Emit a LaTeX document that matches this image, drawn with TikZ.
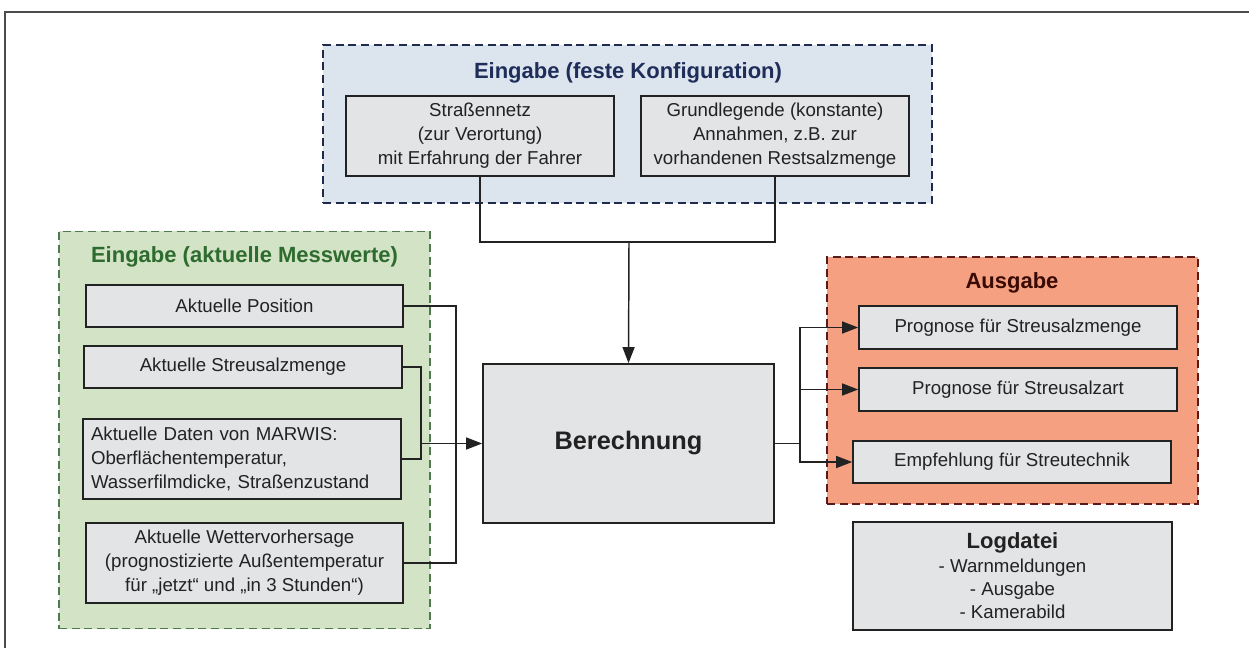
\documentclass[tikz,border=0pt]{standalone}
\usepackage{fontspec}
\setmainfont{Liberation Sans}
\usetikzlibrary{arrows.meta}
\definecolor{boxgray}{HTML}{E3E4E6}
\definecolor{bluefill}{HTML}{DCE4ED}
\definecolor{blueline}{HTML}{1E2A4E}
\definecolor{bluetext}{HTML}{1F2D5A}
\definecolor{greenfill}{HTML}{D3E3C5}
\definecolor{greenline}{HTML}{4F7A4F}
\definecolor{greentext}{HTML}{2D6B2F}
\definecolor{orangefill}{HTML}{F4A081}
\definecolor{orangeline}{HTML}{5B1A1A}
\definecolor{orangetext}{HTML}{3A0A05}
\definecolor{ink}{HTML}{222222}
\tikzset{
  frame/.style={line width=1.1pt, dash pattern=on 6pt off 3.5pt, inner sep=0pt},
  boxnode/.style={draw=ink, fill=boxgray, line width=1.3pt, inner sep=0pt, align=center,
    font=\fontsize{14}{18}\selectfont, text=ink},
  title/.style={font=\bfseries\fontsize{16.5}{20}\selectfont, inner sep=0pt},
  conn/.style={draw=ink, line width=1.1pt},
  arr/.style={conn, -{Triangle[length=12pt,width=9pt]}},
}
\begin{document}
\begin{tikzpicture}[x=0.75pt,y=-0.75pt]
\useasboundingbox (0,0) rectangle (1249,648);
\draw[black!70, line width=1.2pt] (5,648) -- (5,12) -- (1249,12);

% frames
\node[frame, draw=blueline, fill=bluefill, minimum width=609*0.75pt, minimum height=158*0.75pt] (bframe) at (627.5,124) {};
\node[frame, draw=greenline, fill=greenfill, minimum width=371*0.75pt, minimum height=397*0.75pt] (gframe) at (244.5,430) {};
\node[frame, draw=orangeline, fill=orangefill, minimum width=371*0.75pt, minimum height=247*0.75pt] (oframe) at (1012.5,380.5) {};

% titles
\node[title, text=bluetext] (btitle) at (628,73) {Eingabe (feste Konfiguration)};
\node[title, text=greentext] (gtitle) at (244.5,257) {Eingabe (aktuelle Messwerte)};
\node[title, text=orangetext] (otitle) at (1012,283) {Ausgabe};

% top inputs
\node[boxnode, minimum width=268*0.75pt, minimum height=80*0.75pt] (strasse) at (480,136) {Straßennetz\\(zur Verortung)\\mit Erfahrung der Fahrer};
\node[boxnode, minimum width=268*0.75pt, minimum height=80*0.75pt] (grund) at (775,136) {Grundlegende (konstante)\\Annahmen, z.B. zur\\vorhandenen Restsalzmenge};

% left inputs
\node[boxnode, minimum width=317*0.75pt, minimum height=42*0.75pt] (position) at (244.5,306) {Aktuelle Position};
\node[boxnode, minimum width=318*0.75pt, minimum height=42*0.75pt] (streusalz) at (243,367) {Aktuelle Streusalzmenge};
\node[boxnode, align=left, inner xsep=6pt, text width=302*0.75pt, minimum height=80*0.75pt] (marwis) at (242,459) {Aktuelle Daten von MARWIS:\\Oberflächentemperatur,\\Wasserfilmdicke, Straßenzustand};
\node[boxnode, minimum width=317*0.75pt, minimum height=80*0.75pt] (wetter) at (244.5,563) {Aktuelle Wettervorhersage\\(prognostizierte Außentemperatur\\für „jetzt“ und „in 3 Stunden“)};

% center
\node[boxnode, minimum width=291*0.75pt, minimum height=159*0.75pt, font=\bfseries\fontsize{19}{23}\selectfont] (ber) at (628.5,443.5) {Berechnung};

% outputs
\node[boxnode, minimum width=318*0.75pt, minimum height=43*0.75pt] (p1) at (1018,327.5) {Prognose für Streusalzmenge};
\node[boxnode, minimum width=318*0.75pt, minimum height=43*0.75pt] (p2) at (1018,389.5) {Prognose für Streusalzart};
\node[boxnode, minimum width=318*0.75pt, minimum height=42*0.75pt] (emp) at (1012,462) {Empfehlung für Streutechnik};
\node[boxnode, minimum width=319*0.75pt, minimum height=108*0.75pt, font=\fontsize{14}{17.5}\selectfont] (log) at (1012.5,576) {{\bfseries\fontsize{16.5}{17.5}\selectfont Logdatei}\\- Warnmeldungen\\- Ausgabe\\- Kamerabild};

% connectors
\coordinate (tj) at (629,242);
\coordinate (sm) at (421,443.5);
\coordinate (pw) at (456,443.5);
\coordinate (rj) at (800,443.5);

\draw[conn] (strasse.south) |- (tj);
\draw[conn] (grund.south) |- (tj);
\draw[arr] (tj) -- (ber.north);

\draw[conn] (streusalz.east) -| (sm) |- (marwis.east);
\draw[conn] (position.east) -| (pw) |- (wetter.east);
\draw[arr] (sm) -- (ber.west);

\draw[conn] (ber.east) -- (rj);
\draw[arr] (rj) |- (p1.west);
\draw[arr] (rj) |- (p2.west);
\draw[arr] (rj) |- (emp.west);
\end{tikzpicture}
\end{document}
